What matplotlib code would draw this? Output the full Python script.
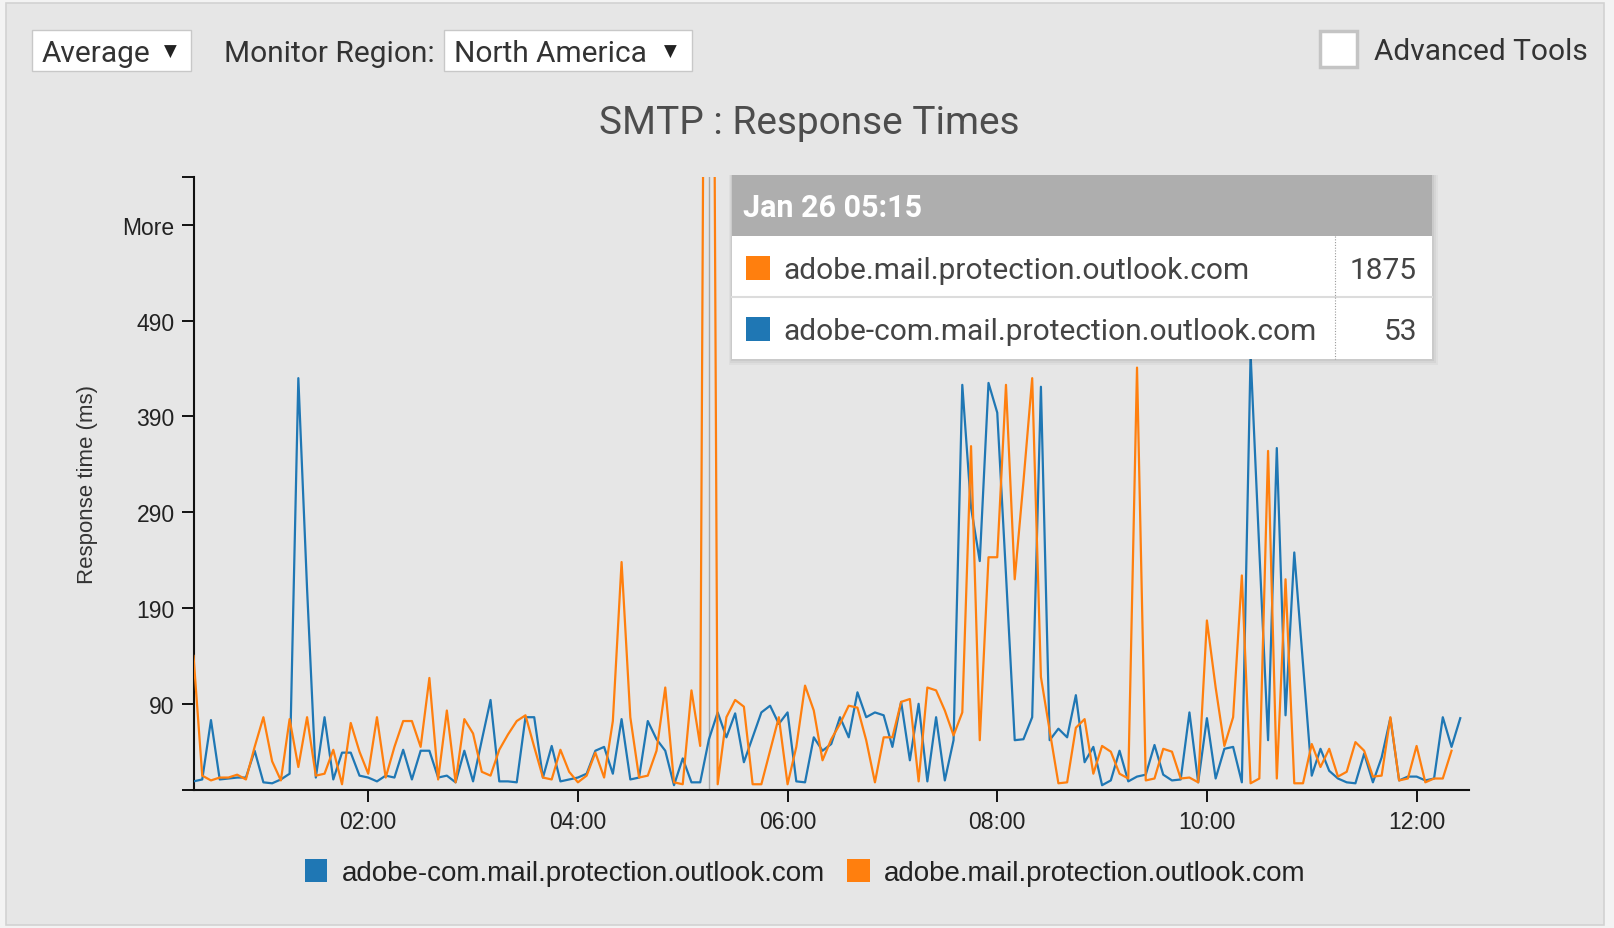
import matplotlib
matplotlib.use("Agg")
import matplotlib.pyplot as plt
import numpy as np
from matplotlib.patches import Rectangle

W, H = 1614, 929

# samples every 5 minutes starting 00:20
start_hour = 20 / 60
step_hour = 5 / 60

blue_name = "adobe-com.mail.protection.outlook.com"
orange_name = "adobe.mail.protection.outlook.com"

blue_ms = [9, 11, 73, 11, 12, 13, 13, 41, 8, 7,
           11, 17, 430, 210, 13, 76, 11, 39, 39, 15,
           13, 9, 15, 13, 42, 11, 41, 41, 13, 15,
           8, 41, 9, 52, 94, 9, 9, 8, 76, 76,
           13, 46, 9, 11, 13, 17, 41, 45, 17, 74,
           11, 13, 72, 53, 41, 5, 33, 8, 8, 53,
           81, 55, 80, 29, 55, 81, 88, 69, 81, 9,
           8, 55, 41, 48, 76, 55, 102, 76, 81, 78,
           45, 92, 31, 90, 9, 76, 10, 52, 423, 295,
           239, 425, 394, 225, 52, 53, 76, 421, 52, 64,
           55, 99, 29, 45, 5, 10, 41, 9, 14, 16,
           47, 16, 10, 11, 81, 8, 75, 12, 43, 45,
           8, 455, 250, 52, 357, 78, 248, 132, 15, 43,
           20, 12, 8, 7, 38, 8, 34, 75, 10, 14,
           14, 10, 12, 76, 45, 75]

orange_ms = [140, 15, 10, 13, 13, 16, 11, 45, 76, 30,
             10, 74, 24, 76, 15, 17, 42, 6, 70, 40,
             17, 76, 13, 45, 72, 72, 45, 117, 11, 83,
             8, 74, 59, 19, 15, 42, 58, 72, 78, 45,
             13, 11, 42, 19, 8, 15, 39, 13, 72, 238,
             76, 13, 15, 41, 107, 8, 6, 104, 46, 1875,
             6, 76, 94, 87, 6, 6, 41, 76, 6, 45,
             109, 83, 31, 53, 69, 88, 86, 52, 8, 55,
             55, 92, 95, 9, 107, 104, 83, 57, 81, 359,
             52, 243, 243, 423, 220, 322, 430, 118, 62, 7,
             8, 65, 74, 17, 46, 40, 17, 12, 441, 10,
             12, 43, 40, 12, 13, 8, 177, 107, 46, 76,
             224, 7, 12, 354, 12, 220, 7, 7, 48, 24,
             43, 14, 19, 50, 41, 14, 15, 76, 10, 12,
             46, 8, 12, 12, 41, np.nan]

y_ticks = [0, 90, 190, 290, 390, 490, 590, 640]
y_tick_labels = ["", "90", "190", "290", "390", "490", "More", ""]
x_ticks = [2, 4, 6, 8, 10, 12]
x_tick_labels = ["02:00", "04:00", "06:00", "08:00", "10:00", "12:00"]

hover_label = "Jan 26 05:15"
hover_hour = 5.25
hover_rows = [(orange_name, "1875", "#ff7f0e"), (blue_name, "53", "#1f77b4")]

hours = start_hour + step_hour * np.arange(len(blue_ms))

BLUE = "#1f77b4"
ORANGE = "#ff7f0e"
BG = "#e6e6e6"
UI = ["Roboto", "DejaVu Sans"]
ARIAL = ["Liberation Sans", "DejaVu Sans"]

fig = plt.figure(figsize=(W / 100, H / 100), dpi=100, facecolor="#f3f3f3")


def fx(x):
    return x / W


def fy(y):
    return 1 - y / H


def box(x0, y0, x1, y1, **kw):
    r = Rectangle((fx(x0), fy(y1)), (x1 - x0) / W, (y1 - y0) / H,
                  transform=fig.transFigure, **kw)
    fig.add_artist(r)
    return r


def label(x, y, s, **kw):
    fig.text(fx(x), fy(y), s, **kw)


# panel background
box(6, 4, 1604, 926, facecolor=BG, edgecolor="#d2d2d2", lw=1.2, zorder=-5)

# chart
ax = fig.add_axes([fx(193.5), fy(791), (1469 - 193.5) / W, (791 - 178) / H])
ax.patch.set_alpha(0)
ax.plot(hours, blue_ms, color=BLUE, lw=1.6, zorder=3)
ax.plot(hours, orange_ms, color=ORANGE, lw=1.6, zorder=3)
ax.axvline(hover_hour, color="#a8a8a8", lw=1, zorder=2)

ax.set_xlim(start_hour, 12.5)
ax.set_ylim(0, 640)
ax.set_yticks(y_ticks)
ax.set_yticklabels(y_tick_labels, fontfamily=ARIAL, fontsize=16.5, color="#222")
ax.set_xticks(x_ticks)
ax.set_xticklabels(x_tick_labels, fontfamily=ARIAL, fontsize=16.5, color="#222")
ax.tick_params(axis="y", length=8.5, width=1.4, pad=5, color="#111")
ax.tick_params(axis="x", length=8.5, width=1.4, pad=6, color="#111")
for side in ["top", "right"]:
    ax.spines[side].set_visible(False)
for side in ["left", "bottom"]:
    ax.spines[side].set_linewidth(1.5)
    ax.spines[side].set_color("#111")
fig.text(fx(88), fy(484), "Response time (ms)", rotation=90, ha="center",
         va="center", fontfamily=ARIAL, fontsize=16, color="#333")

# top controls
box(32, 31, 191, 72, facecolor="white", edgecolor="#c8c8c8", lw=1, zorder=2)
label(42, 54, "Average", fontfamily=UI, fontsize=21.5, color="#333", va="center")
label(170, 52, "▼", fontfamily=["DejaVu Sans"], fontsize=12, color="#222",
      va="center", ha="center")
label(224, 54, "Monitor Region:", fontfamily=UI, fontsize=21.5, color="#333", va="center")
box(444, 31, 692, 72, facecolor="white", edgecolor="#c8c8c8", lw=1, zorder=2)
label(454, 54, "North America", fontfamily=UI, fontsize=21.5, color="#333", va="center")
label(670, 52, "▼", fontfamily=["DejaVu Sans"], fontsize=12, color="#222",
      va="center", ha="center")
box(1320, 32, 1357, 68, facecolor="white", edgecolor="#c4c4c4", lw=2.5, zorder=2)
label(1374, 52, "Advanced Tools", fontfamily=UI, fontsize=21.5, color="#333", va="center")

# title
label(809, 123, "SMTP : Response Times", fontfamily=UI, fontsize=28, color="#4d4d4d",
      ha="center", va="center")

# tooltip
for k, a in [(6, 0.03), (4, 0.04), (2, 0.05)]:
    box(732 - k / 2, 176, 1432 + k, 360 + k, facecolor="black", edgecolor="none",
        alpha=a, zorder=4)
box(732, 237, 1432, 360, facecolor="white", edgecolor="none", zorder=5)
box(732, 176, 1432, 237, facecolor="#aeaeae", edgecolor="none", zorder=5)
fig.add_artist(plt.Line2D([fx(732), fx(1432)], [fy(298), fy(298)], color="#dcdcdc",
                          lw=1.5, transform=fig.transFigure, zorder=6))
fig.add_artist(plt.Line2D([fx(1335), fx(1335)], [fy(237), fy(360)], color="#9a9a9a",
                          lw=0.8, ls=(0, (1, 1.5)), transform=fig.transFigure, zorder=6))
label(743, 208, hover_label, fontfamily=UI, fontsize=22, color="white",
      fontweight="bold", va="center", zorder=7)
for r, (name, val, col) in enumerate(hover_rows):
    yc = 269 + r * 61
    box(746, yc - 12, 770, yc + 12, facecolor=col, edgecolor="none", zorder=7)
    label(783, yc + 2, name, fontfamily=UI, fontsize=21.5, color="#444", va="center", zorder=7)
    label(1417, yc + 2, val, fontfamily=UI, fontsize=21.5, color="#444", va="center",
          ha="right", zorder=7)

# legend
box(305, 860, 327, 883, facecolor=BLUE, edgecolor="none", zorder=2)
label(342, 874, blue_name, fontfamily=ARIAL, fontsize=20, color="#222", va="center")
box(847, 860, 870, 883, facecolor=ORANGE, edgecolor="none", zorder=2)
label(884, 874, orange_name, fontfamily=ARIAL, fontsize=20, color="#222", va="center")

fig.savefig("out.png", dpi=100, facecolor=fig.get_facecolor())
